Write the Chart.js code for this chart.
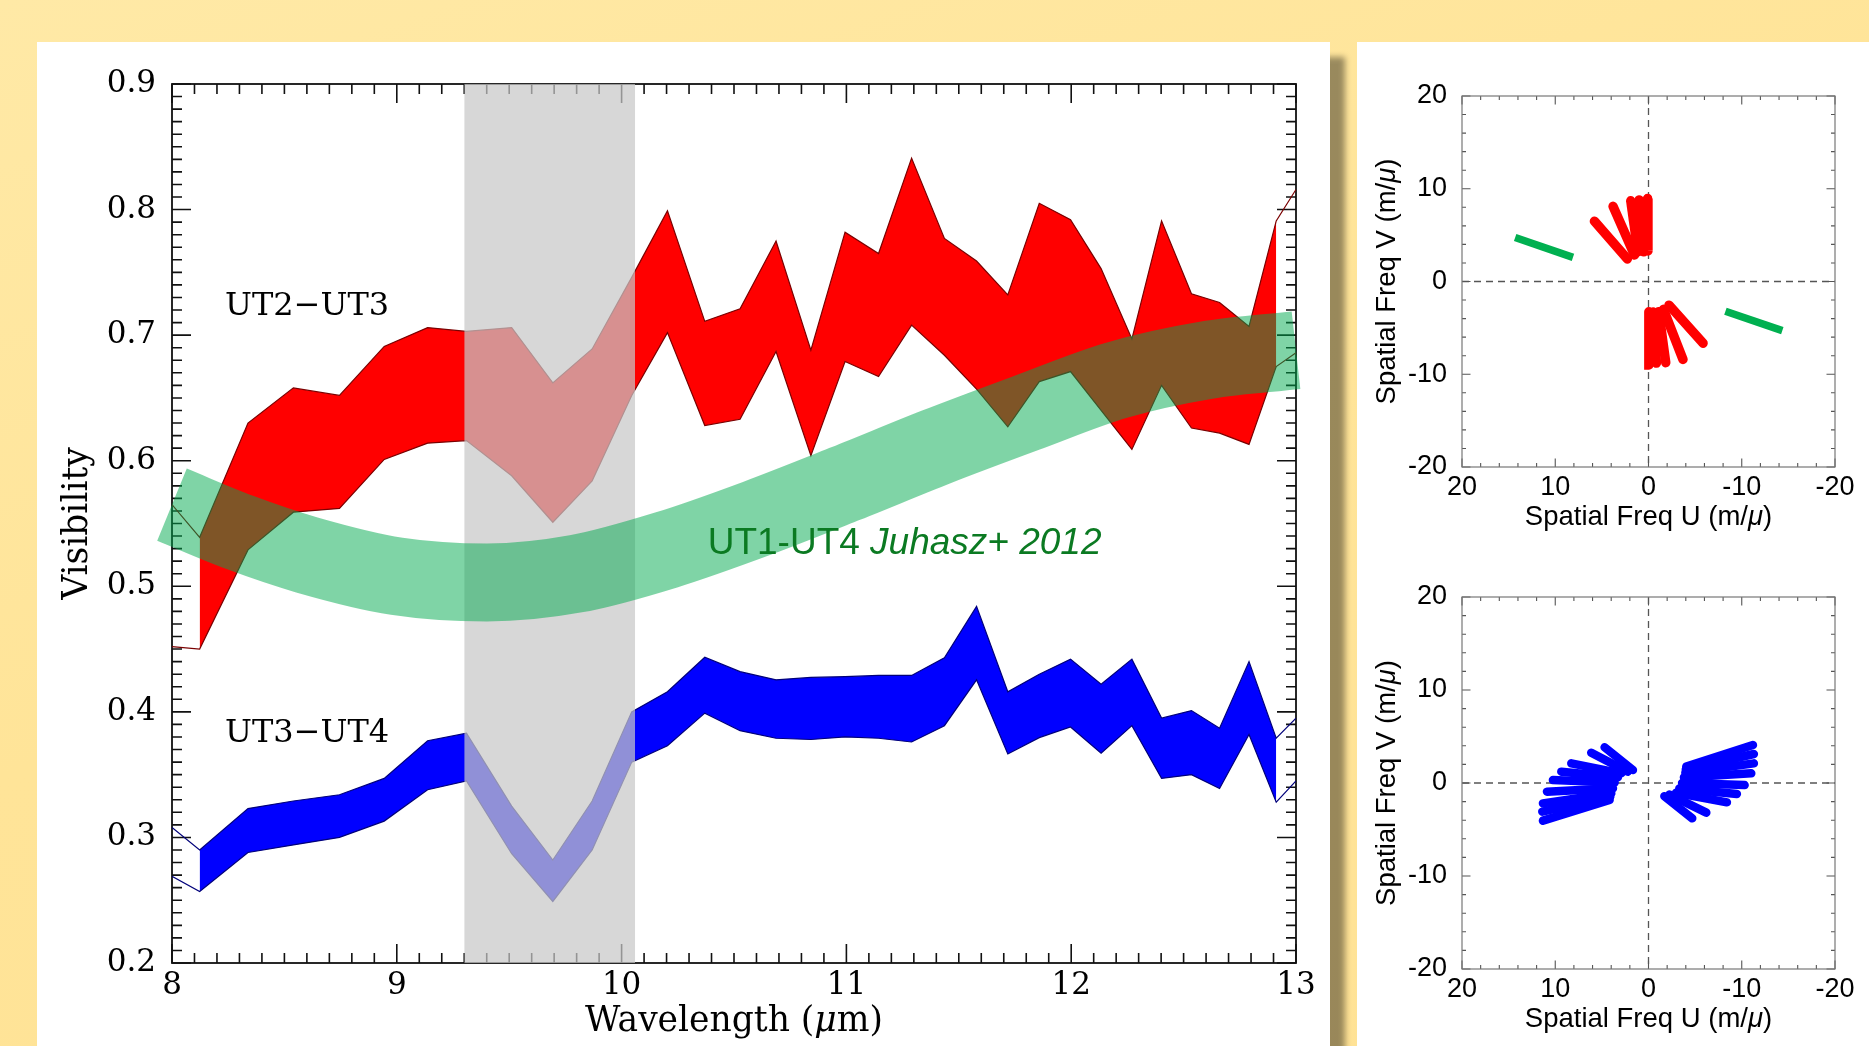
<!DOCTYPE html>
<html>
<head>
<meta charset="utf-8">
<title>MIDI visibilities and uv coverage</title>
<script src="https://cdn.jsdelivr.net/npm/chart.js@4.4.1/dist/chart.umd.min.js"></script>
<style>
  html, body { margin: 0; padding: 0; }
  body {
    width: 1869px; height: 1046px; overflow: hidden; position: relative;
    background: linear-gradient(160deg, #ffe9a6 0%, #ffe498 45%, #ffe295 100%);
  }
  .panel { position: absolute; background: #fff; }
  #visPanel { left: 37px; top: 42px; width: 1293px; height: 1004px; box-shadow: 15px 15px 6px rgba(0, 0, 0, 0.4); }
  #uvPanel { left: 1357px; top: 42px; width: 512px; height: 1004px; }
  canvas { position: absolute; left: 0; }
</style>
</head>
<body>
<div class="panel" id="visPanel"><canvas id="visChart" width="1293" height="1004" style="top:0"></canvas></div>
<div class="panel" id="uvPanel">
  <canvas id="uvTop" width="512" height="508" style="top:0"></canvas>
  <canvas id="uvBottom" width="512" height="496" style="top:508px"></canvas>
</div>
<script>
// wavelength sampling of the MIDI bands (micron); first and last points are the unfilled ends
const wave = [8.0, 8.123, 8.338, 8.54, 8.745, 8.944, 9.137, 9.31, 9.511, 9.694, 9.869, 10.045,
  10.204, 10.37, 10.527, 10.687, 10.842, 10.994, 11.143, 11.29, 11.436, 11.579, 11.718, 11.858,
  11.997, 12.133, 12.27, 12.402, 12.535, 12.66, 12.791, 12.912, 13.0];

// UT2-UT3 visibility, upper and lower edge of the error band
const ut23High = [0.565, 0.539, 0.630, 0.658, 0.652, 0.691, 0.706, 0.703, 0.706, 0.662, 0.689, 0.746,
  0.799, 0.711, 0.721, 0.775, 0.688, 0.782, 0.765, 0.841, 0.777, 0.759, 0.732, 0.805,
  0.792, 0.753, 0.697, 0.791, 0.733, 0.726, 0.707, 0.791, 0.816];
const ut23Low = [0.452, 0.450, 0.529, 0.559, 0.562, 0.601, 0.614, 0.616, 0.588, 0.551, 0.584, 0.652,
  0.702, 0.628, 0.633, 0.687, 0.604, 0.679, 0.667, 0.708, 0.684, 0.657, 0.627, 0.663,
  0.671, 0.640, 0.609, 0.660, 0.626, 0.622, 0.613, 0.675, 0.686];

// UT3-UT4 visibility band
const ut34High = [0.308, 0.290, 0.323, 0.329, 0.334, 0.347, 0.377, 0.383, 0.325, 0.282, 0.329, 0.400,
  0.416, 0.4435, 0.432, 0.4255, 0.4274, 0.428, 0.429, 0.429, 0.443, 0.484, 0.416, 0.430,
  0.442, 0.422, 0.442, 0.395, 0.401, 0.387, 0.440, 0.379, 0.395];
const ut34Low = [0.269, 0.257, 0.288, 0.294, 0.300, 0.313, 0.338, 0.345, 0.287, 0.249, 0.290, 0.360,
  0.373, 0.399, 0.385, 0.379, 0.378, 0.380, 0.379, 0.376, 0.389, 0.4255, 0.3665, 0.3795,
  0.388, 0.367, 0.389, 0.347, 0.350, 0.339, 0.382, 0.328, 0.345];

// UT1-UT4 model of Juhasz+ 2012, centre line of the green band
const juhaszWave = [8.0, 8.3, 8.6, 9.0, 9.4, 9.8, 10.2, 10.6, 11.0, 11.4, 11.8, 12.2, 12.6, 13.0];
const juhaszVis = [0.565, 0.543, 0.525, 0.508, 0.503, 0.510, 0.529, 0.554, 0.582, 0.611, 0.638, 0.664, 0.680, 0.688];

// telluric ozone region, shaded
const maskRange = [9.3, 10.06];

const waveRange = [8, 13];
const visRange = [0.2, 0.9];
const waveTicks = [8, 9, 10, 11, 12, 13];
const visTicks = [0.2, 0.3, 0.4, 0.5, 0.6, 0.7, 0.8, 0.9];

// uv tracks (m/micron): outer and inner end of each baseline segment
const ut23OuterU = [0.1, 1.0, 1.9, 3.8, 5.8];
const ut23OuterV = [8.95, 8.8, 8.7, 8.1, 6.5];
const ut23InnerU = [0.06, 0.53, 1.14, 1.5, 2.27];
const ut23InnerV = [3.3, 3.2, 3.2, 2.86, 2.43];
const ut23ConjOuterU = [-0.05, -0.85, -1.85, -3.7, -5.85];
const ut23ConjOuterV = [-9.0, -8.8, -8.75, -8.4, -6.65];
const ut23ConjInnerU = [-0.04, -0.5, -1.1, -1.6, -2.2];
const ut23ConjInnerV = [-3.26, -3.3, -3.25, -3.0, -2.55];

const ut14U = [14.3, 8.1];
const ut14V = [4.75, 2.6];
const ut14ConjU = [-8.25, -14.35];
const ut14ConjV = [-3.2, -5.3];

const ut34OuterU = [11.32, 11.39, 11.32, 10.89, 10.25, 9.35, 8.28, 6.14, 4.71];
const ut34OuterV = [-4.05, -3.08, -2.19, -0.93, 0.32, 1.22, 2.11, 3.26, 3.84];
const ut34InnerU = [4.17, 4.10, 3.99, 3.81, 3.63, 3.28, 2.92, 2.21, 1.67];
const ut34InnerV = [-1.83, -1.47, -1.11, -0.57, 0.04, 0.61, 1.04, 1.22, 1.40];
const ut34ConjOuterU = [-11.2, -11.3, -11.3, -11.02, -10.31, -9.48, -8.41, -6.2, -4.69];
const ut34ConjOuterV = [4.08, 3.12, 2.11, 1.04, -0.22, -1.18, -2.08, -3.19, -3.8];
const ut34ConjInnerU = [-4.05, -4.0, -3.95, -3.8, -3.6, -3.3, -2.95, -2.25, -1.7];
const ut34ConjInnerV = [1.76, 1.45, 1.1, 0.6, 0.0, -0.6, -1.05, -1.25, -1.42];

const uvRange = [-20, 20];
const uvTicks = [-20, -10, 0, 10, 20];

const SERIF = 'DejaVu Serif';
const SANS = 'Liberation Sans';

const pts = (xs, ys) => xs.map((x, i) => ({ x, y: ys[i] }));
const isMultiple = (v, m) => Math.abs(v / m - Math.round(v / m)) < 1e-6;

// text made of runs with different fonts (for the italic mu)
function drawRuns(ctx, runs, x, y, rotate, align, color) {
  ctx.save();
  ctx.translate(x, y);
  if (rotate) ctx.rotate(rotate);
  ctx.fillStyle = color;
  ctx.textBaseline = 'alphabetic';
  ctx.textAlign = 'left';
  let total = 0;
  runs.forEach(r => { ctx.font = r[1]; total += ctx.measureText(r[0]).width; });
  let cx = align === 'center' ? -total / 2 : 0;
  runs.forEach(r => {
    ctx.font = r[1];
    ctx.fillText(r[0], cx, 0);
    cx += ctx.measureText(r[0]).width;
  });
  ctx.restore();
}

// box with inward ticks on all four sides, plus optional dashed zero lines
const framePlugin = {
  id: 'frame',
  beforeDatasetsDraw(chart, args, o) {
    const { ctx, chartArea: a, scales: { x, y } } = chart;
    ctx.save();
    if (o.zeroDash) {
      ctx.setLineDash(o.zeroDash);
      ctx.strokeStyle = o.zeroColor;
      ctx.lineWidth = o.zeroWidth;
      ctx.beginPath();
      const x0 = x.getPixelForValue(0), y0 = y.getPixelForValue(0);
      ctx.moveTo(x0, a.top); ctx.lineTo(x0, a.bottom);
      ctx.moveTo(a.left, y0); ctx.lineTo(a.right, y0);
      ctx.stroke();
      ctx.setLineDash([]);
    }
    ctx.strokeStyle = o.tickColor;
    ctx.lineWidth = o.tickWidth;
    ctx.beginPath();
    const nx = Math.round((x.max - x.min) / o.xMinor);
    for (let i = 0; i <= nx; i++) {
      const v = x.min + i * o.xMinor;
      const len = isMultiple(v, o.xMajor) ? o.major : o.minor;
      const px = x.getPixelForValue(v);
      ctx.moveTo(px, a.bottom); ctx.lineTo(px, a.bottom - len);
      ctx.moveTo(px, a.top); ctx.lineTo(px, a.top + len);
    }
    const ny = Math.round((y.max - y.min) / o.yMinor);
    for (let i = 0; i <= ny; i++) {
      const v = y.min + i * o.yMinor;
      const len = isMultiple(v, o.yMajor) ? o.major : o.minor;
      const py = y.getPixelForValue(v);
      ctx.moveTo(a.left, py); ctx.lineTo(a.left + len, py);
      ctx.moveTo(a.right, py); ctx.lineTo(a.right - len, py);
    }
    ctx.stroke();
    ctx.lineWidth = o.frameWidth;
    ctx.strokeStyle = o.frameColor;
    ctx.strokeRect(a.left, a.top, a.right - a.left, a.bottom - a.top);
    ctx.restore();
  }
};

const bandLabels = [
  { runs: [['UT2\u2212UT3', '32px "' + SERIF + '"']], x: 8.236, y: 0.716, color: '#000' },
  { runs: [['UT3\u2212UT4', '32px "' + SERIF + '"']], x: 8.236, y: 0.376, color: '#000' },
  { runs: [['UT1-UT4 ', '37px "' + SANS + '"'], ['Juhasz+ 2012', 'italic 37px "' + SANS + '"']], x: 10.383, y: 0.526, color: '#0b7a22' }
];

const visText = {
  id: 'visText',
  afterDraw(chart) {
    const { ctx, chartArea: a, scales: { x, y } } = chart;
    const f = '34.5px "' + SERIF + '"';
    const fi = 'italic 34.5px "' + SERIF + '"';
    drawRuns(ctx, [['Wavelength (', f], ['\u03bc', fi], ['m)', f]], (a.left + a.right) / 2, a.bottom + 68, 0, 'center', '#000');
    drawRuns(ctx, [['Visibility', f]], a.left - 85, (a.top + a.bottom) / 2, -Math.PI / 2, 'center', '#000');
    bandLabels.forEach(l => drawRuns(ctx, l.runs, x.getPixelForValue(l.x), y.getPixelForValue(l.y), 0, 'left', l.color));
  }
};

const bandLine = (ys, color) => ({
  data: pts(wave, ys), borderColor: color, borderWidth: 1.2, fill: false
});
const bandFill = (ys, color, fill) => ({
  data: pts(wave, ys).slice(1, -1), borderColor: 'rgba(0,0,0,0)', borderWidth: 0,
  backgroundColor: color, fill
});

new Chart(document.getElementById('visChart'), {
  type: 'line',
  data: {
    datasets: [
      {
        label: 'UT1-UT4 Juhasz+ 2012', data: pts(juhaszWave, juhaszVis),
        borderColor: 'rgba(0,170,78,0.5)', borderWidth: 78, borderCapStyle: 'butt',
        cubicInterpolationMode: 'monotone', clip: false, fill: false
      },
      {
        label: 'mask', data: [{ x: maskRange[0], y: visRange[1] }, { x: maskRange[1], y: visRange[1] }],
        borderColor: 'rgba(0,0,0,0)', borderWidth: 0, backgroundColor: 'rgba(199,199,199,0.72)', fill: 'start'
      },
      bandLine(ut23High, '#7a0000'),
      bandLine(ut23Low, '#7a0000'),
      bandFill(ut23High, '#ff0000', '+1'),
      bandFill(ut23Low, '#ff0000', false),
      bandLine(ut34High, '#00007a'),
      bandLine(ut34Low, '#00007a'),
      bandFill(ut34High, '#0000ff', '+1'),
      bandFill(ut34Low, '#0000ff', false)
    ]
  },
  options: {
    responsive: false,
    animation: false,
    devicePixelRatio: 1,
    events: [],
    layout: { padding: { left: 0, top: 42, right: 34, bottom: 0 } },
    elements: { point: { radius: 0 }, line: { tension: 0 } },
    plugins: {
      legend: { display: false },
      tooltip: { enabled: false },
      frame: {
        xMinor: 0.1, xMajor: 1, yMinor: 0.01, yMajor: 0.1, major: 19, minor: 10,
        tickColor: '#111', tickWidth: 1.6, frameColor: '#111', frameWidth: 1.8
      }
    },
    scales: {
      x: {
        type: 'linear', min: waveRange[0], max: waveRange[1],
        afterBuildTicks: s => { s.ticks = waveTicks.map(value => ({ value })); },
        afterFit: s => { s.height = 83; },
        grid: { display: false, drawTicks: false }, border: { display: false },
        ticks: { font: { family: SERIF, size: 31 }, color: '#000', padding: 4, maxRotation: 0, autoSkip: false }
      },
      y: {
        type: 'linear', min: visRange[0], max: visRange[1],
        afterBuildTicks: s => { s.ticks = visTicks.map(value => ({ value })); },
        afterFit: s => { s.width = 135; },
        grid: { display: false, drawTicks: false }, border: { display: false },
        ticks: { font: { family: SERIF, size: 31 }, color: '#000', padding: 16, autoSkip: false, callback: v => v.toFixed(1) }
      }
    }
  },
  plugins: [framePlugin, visText]
});

// uv coverage panels
const segments = (ou, ov, iu, iv, color, width, cap) => ou.map((u, i) => ({
  data: [{ x: u, y: ov[i] }, { x: iu[i], y: iv[i] }],
  borderColor: color, borderWidth: width, borderCapStyle: cap, showLine: true, fill: false
}));

const uvText = {
  id: 'uvText',
  afterDraw(chart) {
    const { ctx, chartArea: a } = chart;
    const f = '27.5px "' + SANS + '"';
    const fi = 'italic 27.5px "' + SANS + '"';
    drawRuns(ctx, [['Spatial Freq U (m/', f], ['\u03bc', fi], [')', f]], (a.left + a.right) / 2, a.bottom + 57.5, 0, 'center', '#000');
    drawRuns(ctx, [['Spatial Freq V (m/', f], ['\u03bc', fi], [')', f]], a.left - 67, (a.top + a.bottom) / 2, -Math.PI / 2, 'center', '#000');
  }
};

function uvChart(id, datasets, padTop, bottomBox) {
  return new Chart(document.getElementById(id), {
    type: 'scatter',
    data: { datasets },
    options: {
      responsive: false,
      animation: false,
      devicePixelRatio: 1,
      events: [],
      layout: { padding: { left: 0, top: padTop, right: 34, bottom: 0 } },
      elements: { point: { radius: 0 } },
      plugins: {
        legend: { display: false },
        tooltip: { enabled: false },
        frame: {
          xMinor: 2, xMajor: 10, yMinor: 2, yMajor: 10, major: 8.5, minor: 4,
          tickColor: '#555', tickWidth: 1.1, frameColor: '#777', frameWidth: 1.2,
          zeroDash: [7, 5], zeroColor: '#555', zeroWidth: 1.3
        }
      },
      scales: {
        x: {
          type: 'linear', min: uvRange[0], max: uvRange[1], reverse: true,
          afterBuildTicks: s => { s.ticks = uvTicks.map(value => ({ value })); },
          afterFit: s => { s.height = bottomBox; },
          grid: { display: false, drawTicks: false }, border: { display: false },
          ticks: { font: { family: SANS, size: 27 }, color: '#000', padding: 4, maxRotation: 0, autoSkip: false }
        },
        y: {
          type: 'linear', min: uvRange[0], max: uvRange[1],
          afterBuildTicks: s => { s.ticks = uvTicks.map(value => ({ value })); },
          afterFit: s => { s.width = 105; },
          grid: { display: false, drawTicks: false }, border: { display: false },
          ticks: { font: { family: SANS, size: 27 }, color: '#000', padding: 15, autoSkip: false }
        }
      }
    },
    plugins: [framePlugin, uvText]
  });
}

uvChart('uvTop', [
  ...segments(ut23OuterU, ut23OuterV, ut23InnerU, ut23InnerV, '#ff0000', 9.5, 'round'),
  ...segments(ut23ConjOuterU, ut23ConjOuterV, ut23ConjInnerU, ut23ConjInnerV, '#ff0000', 9.5, 'round'),
  ...segments([ut14U[0]], [ut14V[0]], [ut14U[1]], [ut14V[1]], '#00b050', 7.5, 'butt'),
  ...segments([ut14ConjU[0]], [ut14ConjV[0]], [ut14ConjU[1]], [ut14ConjV[1]], '#00b050', 7.5, 'butt')
], 54, 83);

uvChart('uvBottom', [
  ...segments(ut34OuterU, ut34OuterV, ut34InnerU, ut34InnerV, '#0000ff', 8.5, 'round'),
  ...segments(ut34ConjOuterU, ut34ConjOuterV, ut34ConjInnerU, ut34ConjInnerV, '#0000ff', 8.5, 'round')
], 47, 77);
</script>
</body>
</html>
